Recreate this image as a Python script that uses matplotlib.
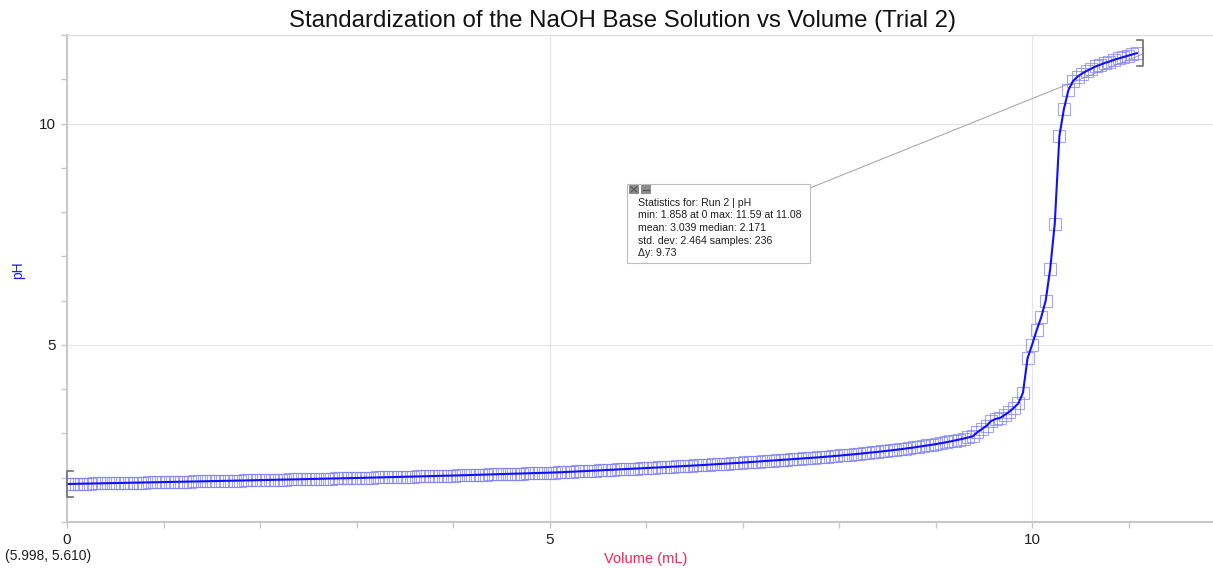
import matplotlib
matplotlib.use('Agg')
import matplotlib.pyplot as plt
from matplotlib.patches import Rectangle
from matplotlib.lines import Line2D
from matplotlib.ticker import MultipleLocator

plt.rcParams['font.family'] = ['Liberation Sans', 'DejaVu Sans']

# volume (mL), 236 samples
volume = [
    0.000, 0.047, 0.094, 0.141, 0.189, 0.236, 0.283, 0.330, 0.377, 0.424,
    0.472, 0.519, 0.566, 0.613, 0.660, 0.707, 0.754, 0.802, 0.849, 0.896,
    0.943, 0.990, 1.037, 1.084, 1.132, 1.179, 1.226, 1.273, 1.320, 1.367,
    1.415, 1.462, 1.509, 1.556, 1.603, 1.650, 1.697, 1.744, 1.792, 1.839,
    1.886, 1.933, 1.980, 2.027, 2.075, 2.122, 2.169, 2.216, 2.263, 2.310,
    2.358, 2.405, 2.452, 2.499, 2.546, 2.593, 2.640, 2.688, 2.735, 2.782,
    2.829, 2.876, 2.923, 2.970, 3.018, 3.065, 3.112, 3.159, 3.206, 3.253,
    3.301, 3.348, 3.395, 3.442, 3.489, 3.536, 3.583, 3.631, 3.678, 3.725,
    3.772, 3.819, 3.866, 3.913, 3.961, 4.008, 4.055, 4.102, 4.149, 4.196,
    4.244, 4.291, 4.338, 4.385, 4.432, 4.479, 4.526, 4.573, 4.621, 4.668,
    4.715, 4.762, 4.809, 4.856, 4.904, 4.951, 4.998, 5.045, 5.092, 5.139,
    5.187, 5.234, 5.281, 5.328, 5.375, 5.422, 5.469, 5.516, 5.564, 5.611,
    5.658, 5.705, 5.752, 5.799, 5.847, 5.894, 5.941, 5.988, 6.035, 6.082,
    6.130, 6.177, 6.224, 6.271, 6.318, 6.365, 6.412, 6.459, 6.507, 6.554,
    6.601, 6.648, 6.695, 6.742, 6.790, 6.837, 6.884, 6.931, 6.978, 7.025,
    7.073, 7.120, 7.167, 7.214, 7.261, 7.308, 7.355, 7.402, 7.450, 7.497,
    7.544, 7.591, 7.638, 7.685, 7.733, 7.780, 7.827, 7.874, 7.921, 7.968,
    8.016, 8.063, 8.110, 8.157, 8.204, 8.251, 8.298, 8.345, 8.393, 8.440,
    8.487, 8.534, 8.581, 8.628, 8.676, 8.723, 8.770, 8.817, 8.864, 8.911,
    8.959, 9.006, 9.053, 9.100, 9.147, 9.194, 9.241, 9.288, 9.336, 9.383,
    9.430, 9.477, 9.524, 9.571, 9.619, 9.666, 9.713, 9.760, 9.807, 9.854,
    9.902, 9.949, 9.996, 10.043, 10.090, 10.137, 10.184, 10.231, 10.279, 10.326,
    10.373, 10.420, 10.467, 10.514, 10.562, 10.609, 10.656, 10.703, 10.750, 10.797,
    10.845, 10.892, 10.939, 10.986, 11.033, 11.080,
]

pH = [
    1.858, 1.860, 1.862, 1.864, 1.866, 1.868, 1.870, 1.872, 1.874, 1.876,
    1.878, 1.880, 1.882, 1.884, 1.886, 1.888, 1.890, 1.892, 1.894, 1.896,
    1.898, 1.900, 1.902, 1.904, 1.906, 1.909, 1.911, 1.913, 1.915, 1.917,
    1.919, 1.921, 1.924, 1.926, 1.928, 1.930, 1.932, 1.934, 1.937, 1.939,
    1.941, 1.943, 1.945, 1.947, 1.950, 1.952, 1.954, 1.956, 1.959, 1.961,
    1.963, 1.965, 1.968, 1.970, 1.972, 1.975, 1.977, 1.979, 1.981, 1.984,
    1.986, 1.988, 1.991, 1.993, 1.995, 1.998, 2.000, 2.003, 2.006, 2.008,
    2.011, 2.013, 2.016, 2.019, 2.021, 2.024, 2.026, 2.029, 2.032, 2.034,
    2.037, 2.040, 2.042, 2.045, 2.048, 2.050, 2.053, 2.056, 2.059, 2.062,
    2.065, 2.068, 2.071, 2.074, 2.077, 2.080, 2.083, 2.086, 2.089, 2.092,
    2.095, 2.098, 2.101, 2.105, 2.108, 2.111, 2.115, 2.118, 2.122, 2.126,
    2.131, 2.136, 2.141, 2.146, 2.151, 2.156, 2.161, 2.167, 2.173, 2.178,
    2.183, 2.188, 2.193, 2.198, 2.203, 2.208, 2.213, 2.218, 2.223, 2.228,
    2.233, 2.238, 2.244, 2.249, 2.255, 2.260, 2.266, 2.271, 2.277, 2.283,
    2.289, 2.295, 2.301, 2.307, 2.313, 2.320, 2.326, 2.333, 2.339, 2.346,
    2.352, 2.359, 2.365, 2.372, 2.379, 2.386, 2.393, 2.400, 2.407, 2.414,
    2.421, 2.429, 2.436, 2.444, 2.452, 2.460, 2.468, 2.476, 2.485, 2.494,
    2.503, 2.512, 2.521, 2.531, 2.541, 2.551, 2.561, 2.572, 2.583, 2.594,
    2.605, 2.617, 2.629, 2.642, 2.655, 2.669, 2.683, 2.698, 2.713, 2.729,
    2.745, 2.762, 2.780, 2.799, 2.819, 2.840, 2.862, 2.885, 2.910, 2.937,
    3.030, 3.100, 3.170, 3.280, 3.330, 3.350, 3.420, 3.490, 3.580, 3.680,
    3.920, 4.700, 5.000, 5.330, 5.620, 6.000, 6.720, 7.740, 9.720, 10.330,
    10.760, 10.960, 11.060, 11.130, 11.190, 11.240, 11.290, 11.330, 11.370, 11.400,
    11.440, 11.470, 11.500, 11.530, 11.560, 11.590,
]

title = 'Standardization of the NaOH Base Solution vs Volume (Trial 2)'
stats_lines = [
    'Statistics for: Run 2 | pH',
    'min: 1.858 at 0 max: 11.59 at 11.08',
    'mean: 3.039 median: 2.171',
    'std. dev: 2.464 samples: 236',
    '\u0394y: 9.73',
]
cursor_text = '(5.998, 5.610)'

W, H = 1213, 568


def fx(px):
    return px / W


def fy(py):
    return 1 - py / H


fig = plt.figure(figsize=(W / 100, H / 100), dpi=100)
ax = fig.add_axes([fx(67), fy(522), fx(1213) - fx(67), fy(35) - fy(522)])

# connector from stats box to selection bracket (under the data)
ax.add_line(Line2D([fx(810), fx(1143)], [fy(188), fy(54)], transform=fig.transFigure,
                   color='#a0a0a0', lw=0.7, zorder=1, clip_on=False))

ax.plot(volume, pH, linestyle='none', marker='s', markersize=8.5,
        markerfacecolor='none', markeredgecolor='#7f7fff', markeredgewidth=0.8,
        alpha=0.7, zorder=2)
ax.plot(volume, pH, color='#1010ff', lw=1.5, zorder=3)

# selection brackets
bx0, bx1 = volume[0], volume[-1] + 0.07
bw = 0.065
h = 0.29
ax.plot([bx0 + bw, bx0, bx0, bx0 + bw], [pH[0] + h, pH[0] + h, pH[0] - h, pH[0] - h],
        color='#707070', lw=1.2, clip_on=False, zorder=4)
ax.plot([bx1 - bw, bx1, bx1, bx1 - bw], [pH[-1] + h, pH[-1] + h, pH[-1] - h, pH[-1] - h],
        color='#707070', lw=1.2, clip_on=False, zorder=4)

ax.set_xlim(0, 11.87)
ax.set_ylim(1, 12)
ax.xaxis.set_major_locator(MultipleLocator(5))
ax.xaxis.set_minor_locator(MultipleLocator(1))
ax.yaxis.set_major_locator(MultipleLocator(5))
ax.yaxis.set_minor_locator(MultipleLocator(1))
ax.grid(which='major', color='#e6e6e6', lw=0.8, zorder=0)
ax.set_axisbelow(True)
ax.tick_params(which='both', direction='out', length=4, width=1, color='#c8c8c8',
               labelsize=11, labelcolor='#202020', pad=4)

for s in ['left', 'bottom']:
    ax.spines[s].set_color('#c8c8c8')
    ax.spines[s].set_linewidth(1.5)
ax.spines['top'].set_color('#e0e0e0')
ax.spines['top'].set_linewidth(1.0)
ax.spines['right'].set_visible(False)

fig.text(fx(622), fy(21), title, fontsize=17.3, ha='center', va='center', color='#111111')
fig.text(fx(18), fy(270), 'pH', fontsize=10, color='#1a1aff', rotation=90, ha='center', va='center')
fig.text(fx(646), fy(559), 'Volume (mL)', fontsize=10.5, color='#ff2050', ha='center', va='center')
fig.text(fx(5), fy(556), cursor_text, fontsize=10, color='#202020', ha='left', va='center')

# statistics box
fig.add_artist(Rectangle((fx(627), fy(263)), fx(810) - fx(627), fy(184) - fy(263),
                         transform=fig.transFigure, facecolor='white', edgecolor='#bdbdbd',
                         lw=0.8, zorder=5))
for x0 in [629, 641]:
    fig.add_artist(Rectangle((fx(x0), fy(194)), fx(10) - fx(0), fy(185) - fy(194),
                             transform=fig.transFigure, facecolor='#8c8c8c', edgecolor='none',
                             zorder=6))
fig.add_artist(Line2D([fx(631), fx(637)], [fy(187), fy(192)], color='#555555', lw=0.8, zorder=7))
fig.add_artist(Line2D([fx(631), fx(637)], [fy(192), fy(187)], color='#555555', lw=0.8, zorder=7))
fig.add_artist(Line2D([fx(643), fx(649)], [fy(189.5), fy(189.5)], color='#555555', lw=0.9, zorder=7))

for k, line in enumerate(stats_lines):
    fig.text(fx(638), fy(203 + k * 12.5), line, fontsize=7.6, color='#202020',
             ha='left', va='center', zorder=8)

fig.savefig('out.png', dpi=100, facecolor='white')
